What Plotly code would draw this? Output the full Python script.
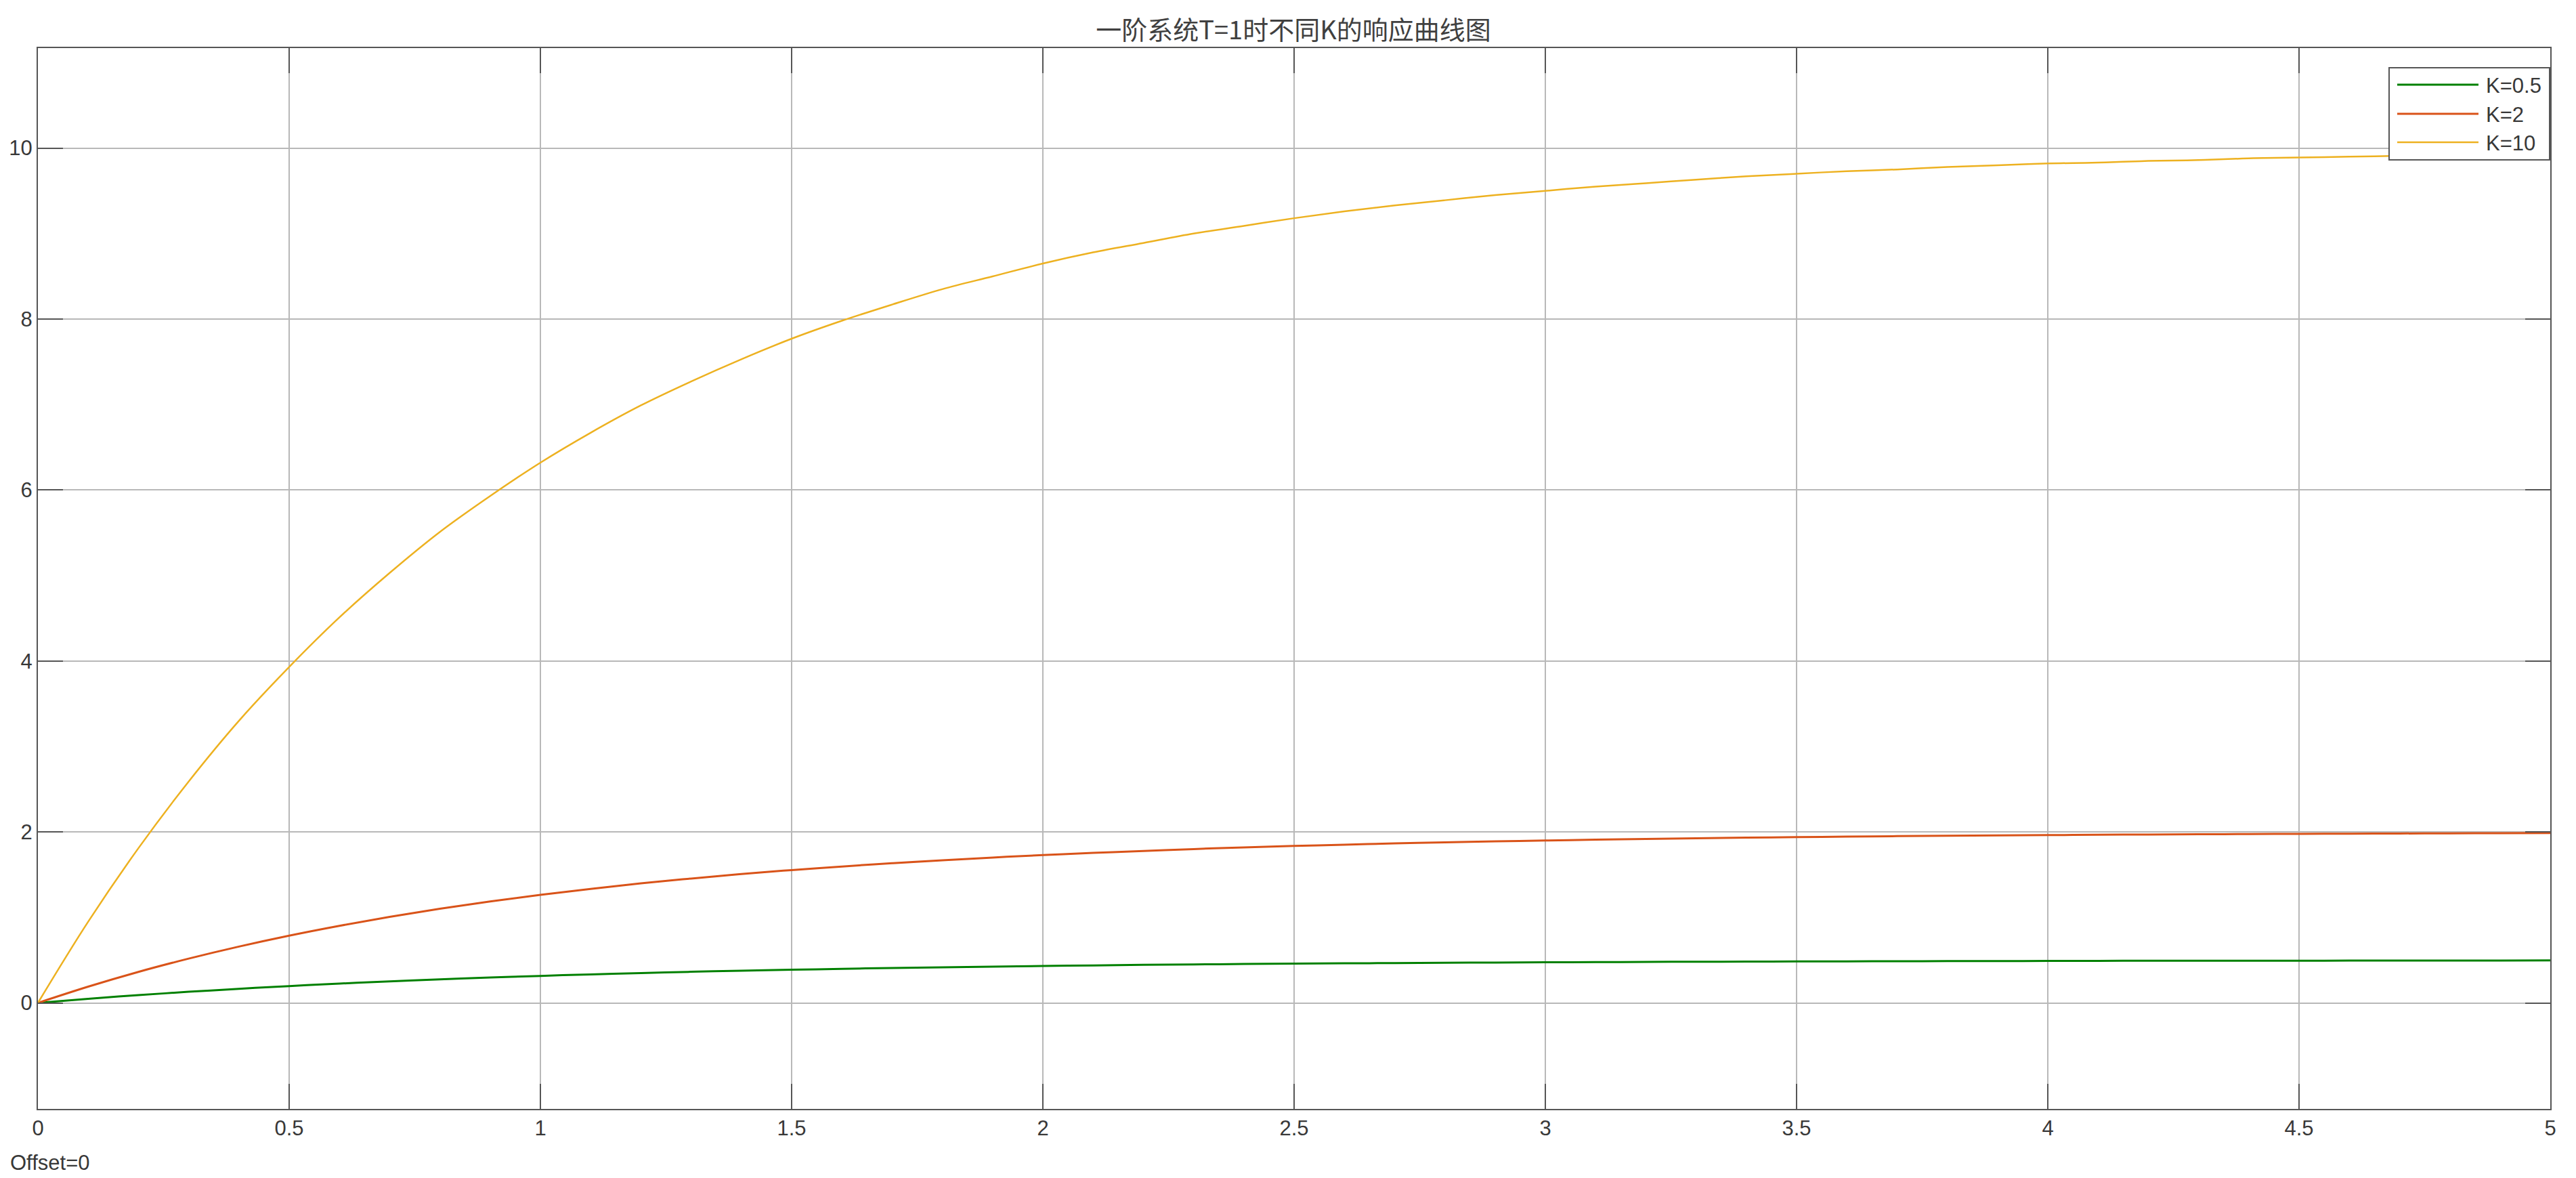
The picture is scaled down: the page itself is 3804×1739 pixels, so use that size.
import plotly.graph_objects as go

t = [round(i * 0.1, 1) for i in range(51)]

k10 = [0, 0.95, 1.81, 2.59, 3.30, 3.93, 4.51, 5.03, 5.51, 5.93, 6.32, 6.67, 6.99, 7.27, 7.53,
       7.77, 7.98, 8.17, 8.35, 8.50, 8.65, 8.78, 8.89, 9.00, 9.09, 9.18, 9.26, 9.33, 9.39, 9.45,
       9.50, 9.55, 9.59, 9.63, 9.67, 9.70, 9.73, 9.75, 9.78, 9.80, 9.82, 9.83, 9.85, 9.86, 9.88,
       9.89, 9.90, 9.91, 9.92, 9.93, 9.93]
k2 = [0, 0.190, 0.363, 0.518, 0.659, 0.787, 0.902, 1.007, 1.101, 1.187, 1.264, 1.334, 1.398,
      1.455, 1.507, 1.554, 1.596, 1.635, 1.669, 1.701, 1.729, 1.755, 1.778, 1.800, 1.819, 1.836,
      1.851, 1.866, 1.878, 1.890, 1.900, 1.910, 1.918, 1.926, 1.933, 1.940, 1.945, 1.951, 1.955,
      1.960, 1.963, 1.967, 1.970, 1.973, 1.975, 1.978, 1.980, 1.982, 1.984, 1.985, 1.987]
k05 = [0, 0.048, 0.091, 0.130, 0.165, 0.197, 0.226, 0.252, 0.275, 0.297, 0.316, 0.334, 0.349,
       0.364, 0.377, 0.388, 0.399, 0.409, 0.417, 0.425, 0.432, 0.439, 0.445, 0.450, 0.455, 0.459,
       0.463, 0.466, 0.470, 0.472, 0.475, 0.477, 0.480, 0.482, 0.483, 0.485, 0.486, 0.488, 0.489,
       0.490, 0.491, 0.492, 0.493, 0.493, 0.494, 0.494, 0.495, 0.495, 0.496, 0.496, 0.497]

names = ["K=0.5", "K=2", "K=10"]
colors = ["#008000", "#D95319", "#EDB120"]
widths = [3, 3, 2.5]

x_ticks = [0, 0.5, 1, 1.5, 2, 2.5, 3, 3.5, 4, 4.5, 5]
x_labels = ["0", "0.5", "1", "1.5", "2", "2.5", "3", "3.5", "4", "4.5", "5"]
y_ticks = [0, 2, 4, 6, 8, 10]

fig = go.Figure()
for name, ys, c, w in zip(names, [k05, k2, k10], colors, widths):
    fig.add_trace(go.Scatter(x=t, y=ys, mode="lines", name=name,
                             line=dict(color=c, width=w, shape="spline", smoothing=1.0)))

W, H = 3804, 1739
ml, mr, mt, mb = 48, 46, 63, 110
pw = W - ml - mr
ph = H - mt - mb

def px(x):
    return (x - ml) / pw

def py(y):
    return 1 - (y - mt) / ph

axis_common = dict(showline=True, linecolor="#555555", linewidth=2, mirror="ticks",
                   ticks="inside", ticklen=37, tickcolor="#555555", tickwidth=2,
                   showgrid=True, gridcolor="#b8b8b8", gridwidth=2, zeroline=False,
                   automargin=False,
                   tickfont=dict(family="Liberation Sans, Arial", size=31, color="#383838"))

font_txt = dict(family="Liberation Sans, Arial", size=31, color="#383838")

# custom legend (box, sample lines, labels)
shapes = [dict(type="rect", xref="paper", yref="paper",
               x0=px(3520), x1=px(3757), y0=py(228), y1=py(92),
               fillcolor="white", line=dict(color="#555555", width=2), layer="above")]
annotations = []
for i, (name, c, w) in enumerate(zip(names, colors, widths)):
    yy = [117, 160, 202][i]
    shapes.append(dict(type="line", xref="paper", yref="paper",
                       x0=px(3532), x1=px(3652), y0=py(yy), y1=py(yy),
                       line=dict(color=c, width=w), layer="above"))
    annotations.append(dict(text=name, xref="paper", yref="paper", x=px(3661), y=py(yy + 1),
                            xanchor="left", yanchor="middle", showarrow=False, font=font_txt))

annotations.append(dict(text="Offset=0", xref="paper", yref="paper",
                        x=px(5), y=py(1708), xanchor="left", yanchor="middle",
                        showarrow=False, font=font_txt))

fig.update_layout(
    width=W, height=H,
    margin=dict(l=ml, r=mr, t=mt, b=mb, autoexpand=False),
    paper_bgcolor="white", plot_bgcolor="white",
    title=dict(text="一阶系统T=1时不同K的响应曲线图", x=0.5, xanchor="center",
               y=1 - 37 / H, yanchor="middle", yref="container",
               font=dict(family="Noto Sans CJK SC", size=38, color="#404040")),
    xaxis=dict(range=[0, 5], tickvals=x_ticks, ticktext=x_labels, **axis_common),
    yaxis=dict(range=[-1.24, 11.17], tickvals=y_ticks, **axis_common),
    showlegend=False,
    shapes=shapes,
    annotations=annotations,
)

fig.write_html("out.html")
